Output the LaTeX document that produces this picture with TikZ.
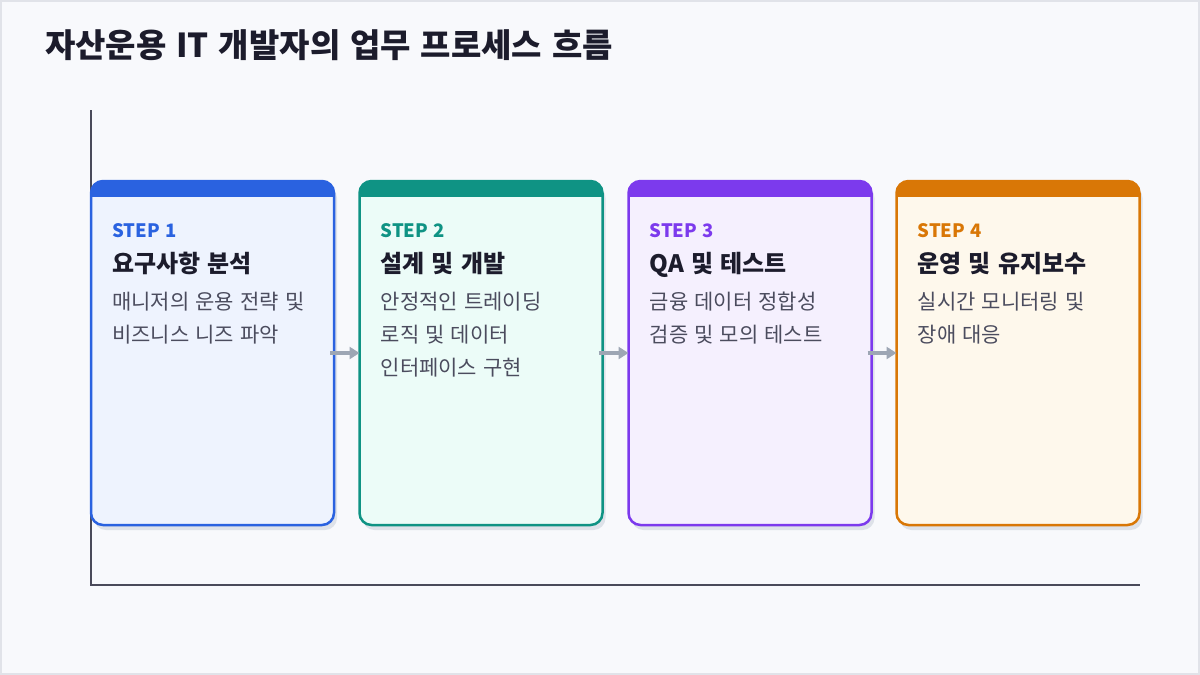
\documentclass[tikz,border=0pt]{standalone}
\usepackage{fontspec}
\setmainfont[WordSpace=1.3]{Noto Sans CJK KR}
\usetikzlibrary{positioning,arrows.meta}

\definecolor{pagebg}{HTML}{F8F9FC}
\definecolor{pageline}{HTML}{E1E3E9}
\definecolor{inkdark}{HTML}{1C1C2C}
\definecolor{inkgray}{HTML}{4B4C5E}
\definecolor{axisgray}{HTML}{4A4A5A}
\definecolor{flowgray}{HTML}{9DA6B4}
\definecolor{shadowgray}{HTML}{DEE2E9}
\definecolor{blueA}{HTML}{2A62E0}
\definecolor{blueB}{HTML}{EEF3FE}
\definecolor{tealA}{HTML}{0F9384}
\definecolor{tealB}{HTML}{ECFCF8}
\definecolor{purpleA}{HTML}{7C3AED}
\definecolor{purpleB}{HTML}{F5F0FE}
\definecolor{orangeA}{HTML}{D97706}
\definecolor{orangeB}{HTML}{FEF8EC}

\tikzset {
    card box/.style={
        rectangle, % Set the shape as a rectangle
        rounded corners=12pt,
        minimum width=243pt,
        minimum height=344pt,
        inner sep=0pt,
        outer sep=0pt,
    },
    card shadow/.style={
        card box,
        fill=shadowgray,
    },
    step label/.style={
        font=\fontsize{18.5}{21}\selectfont\bfseries,
        inner sep=0pt,
        anchor=base west,
    },
    step head/.style={
        font=\fontsize{24}{28}\selectfont\bfseries,
        text=inkdark,
        inner sep=0pt,
        anchor=base west,
    },
    step desc/.style={
        font=\fontsize{21}{24}\selectfont,
        text=inkgray,
        inner sep=0pt,
        anchor=base west,
    },
    flow/.style={
        draw=flowgray,
        line width=3.5pt,
        -{Triangle[length=10pt,width=12pt]},
    },
}

\begin{document}
\begin{tikzpicture}[x=1pt, y=-1pt]

    % page
    \fill[pagebg] (0,0) rectangle (1200,675);
    \draw[pageline, line width=2pt] (1,1) rectangle (1199,674);

    \node[font=\fontsize{33}{39}\selectfont\bfseries, text=inkdark, inner sep=0pt, anchor=base west]
        (title) at (45,57) {자산운용 IT 개발자의 업무 프로세스 흐름};

    % axes
    \coordinate (axistop) at (91,110);
    \coordinate (origin) at (91,585);
    \coordinate (axisend) at (1140,585);
    \draw[axisgray, line width=2pt] (axistop) -- (origin) -- (axisend);

    % cards
    \foreach \i/\x/\main/\soft/\head/\desc in {
        1/212.5/blueA/blueB/요구사항 분석/{매니저의 운용 전략 및,비즈니스 니즈 파악},
        2/481/tealA/tealB/설계 및 개발/{안정적인 트레이딩,로직 및 데이터,인터페이스 구현},
        3/750/purpleA/purpleB/QA 및 테스트/{금융 데이터 정합성,검증 및 모의 테스트},
        4/1018/orangeA/orangeB/운영 및 유지보수/{실시간 모니터링 및,장애 대응}} {
        \node[card shadow] (shadow\i) at (\x+3,358) {};
        \node[card box, fill=\soft] (step\i) at (\x,353) {};
        \begin{scope}
            \clip[rounded corners=12pt] (step\i.north west) rectangle (step\i.south east);
            \fill[\main] (step\i.north west) rectangle ([yshift=-16pt]step\i.north east);
        \end{scope}
        \draw[\main, line width=2.5pt, rounded corners=12pt] (step\i.north west) rectangle (step\i.south east);

        \node[step label, text=\main] (label\i) at ([xshift=21pt, yshift=-56pt]step\i.north west) {STEP \i};
        \node[step head] (head\i) at ([yshift=-35pt]label\i.base west) {\head};
        \foreach \line [count=\k from 0] in \desc {
            \node[step desc] (desc\i-\k) at ([yshift={-37pt-\k*33pt}]head\i.base west) {\line};
        }
    }

    % flow between cards
    \draw[flow] ([xshift=-4pt]step1.east) -- (step2.west);
    \draw[flow] ([xshift=-4pt]step2.east) -- (step3.west);
    \draw[flow] ([xshift=-4pt]step3.east) -- (step4.west);

\end{tikzpicture}
\end{document}
